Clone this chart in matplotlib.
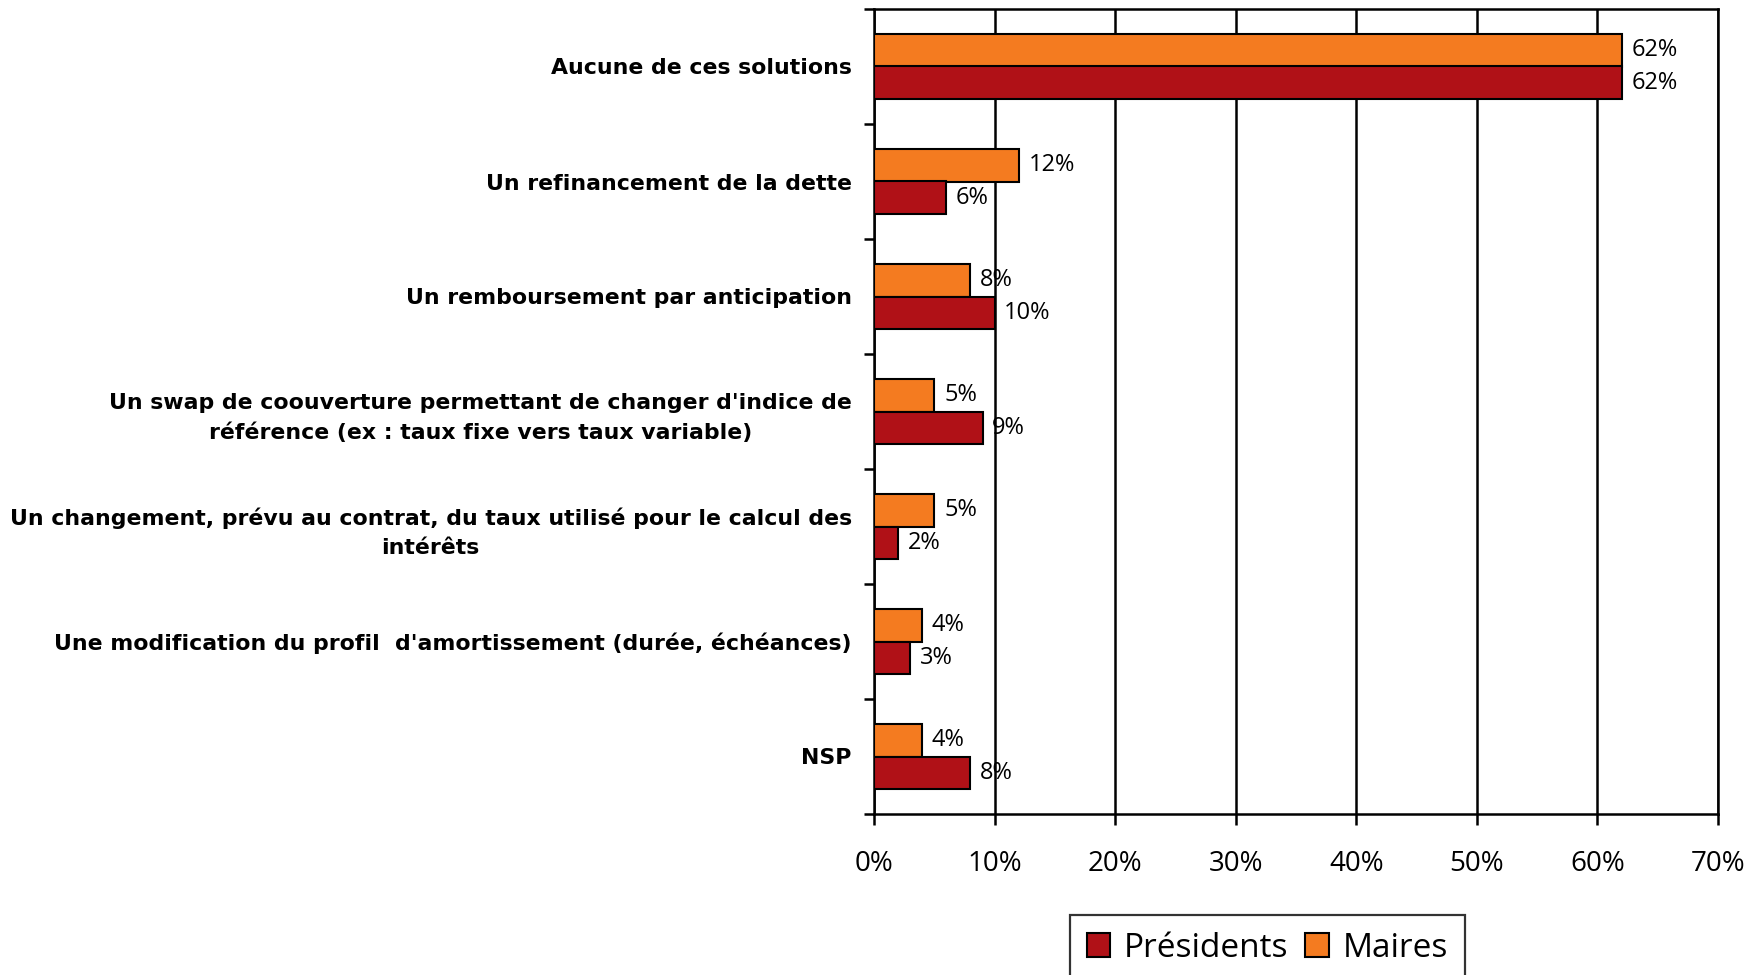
import numpy as np
import matplotlib.pyplot as plt

# data
categories = [
    "Aucune de ces solutions",
    "Un refinancement de la dette",
    "Un remboursement par anticipation",
    "Un swap de coouverture permettant de changer d'indice de\nréférence (ex : taux fixe vers taux variable)",
    "Un changement, prévu au contrat, du taux utilisé pour le calcul des\nintérêts",
    "Une modification du profil  d'amortissement (durée, échéances)",
    "NSP",
]
presidents = [62, 6, 10, 9, 2, 3, 8]
maires = [62, 12, 8, 5, 5, 4, 4]
xticks = [0, 10, 20, 30, 40, 50, 60, 70]

c_pres = '#B01117'
c_maires = '#F47B20'

fig = plt.figure(figsize=(17.61, 9.75), dpi=100)
ax = fig.add_axes([874/1761, 1-814/975, (1718-874)/1761, (814-9)/975])

n = len(categories)
y = np.arange(n)[::-1]
h = 0.285

b_m = ax.barh(y + h/2, maires, height=h, color=c_maires, edgecolor='black', linewidth=1.5, label='Maires', zorder=3)
b_p = ax.barh(y - h/2, presidents, height=h, color=c_pres, edgecolor='black', linewidth=1.5, label='Présidents', zorder=3)

ax.bar_label(b_m, labels=[f'{v}%' for v in maires], padding=7, fontsize=17, family='Open Sans')
ax.bar_label(b_p, labels=[f'{v}%' for v in presidents], padding=7, fontsize=17, family='Open Sans')

ax.set_xlim(0, 70)
ax.set_ylim(-0.5, n - 0.5)

ax.set_xticks(xticks)
ax.set_xticklabels([f'{t}%' for t in xticks], fontsize=20, family='Open Sans')
ax.tick_params(axis='x', length=8, width=1.8, pad=18)
ax.xaxis.grid(True, color='black', linewidth=1.8, zorder=0)
ax.set_axisbelow(True)

ax.set_yticks(y)
ax.set_yticklabels(categories, fontsize=15.8, fontweight='bold', family='DejaVu Sans',
                   multialignment='center', linespacing=1.55)
ax.tick_params(axis='y', length=0, pad=16)
ax.set_yticks(np.arange(n + 1) - 0.5, minor=True)
ax.tick_params(axis='y', which='minor', length=7, width=1.8)

for s in ax.spines.values():
    s.set_linewidth(1.8)
    s.set_color('black')

handles = [b_p, b_m]
leg = fig.legend(handles, ['Présidents', 'Maires'], loc='upper left',
                 bbox_to_anchor=(1070/1761, 1-915/975), ncol=2, frameon=True,
                 fancybox=False, edgecolor='black',
                 prop={'family': 'Open Sans', 'size': 24},
                 handlelength=0.7, handleheight=0.7, handletextpad=0.42,
                 columnspacing=0.5, borderpad=0.5, borderaxespad=0)
leg.get_frame().set_linewidth(1.6)

fig.savefig('out.png', dpi=100)
